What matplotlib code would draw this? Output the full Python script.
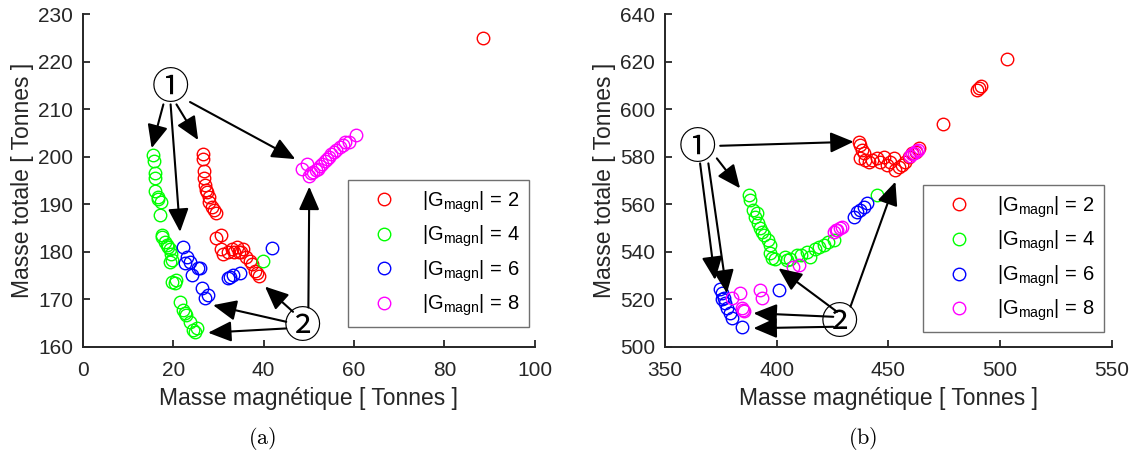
import matplotlib
matplotlib.use('Agg')
import matplotlib.pyplot as plt
from matplotlib.lines import Line2D

plt.rcParams['font.family'] = ['Liberation Sans', 'DejaVu Sans']
plt.rcParams['mathtext.fontset'] = 'custom'
plt.rcParams['mathtext.rm'] = 'Liberation Sans'

# ---- data : panel (a) ----
a_red_x = [26.5, 26.6, 26.8, 26.8, 27.0, 27.2, 27.5, 27.8, 28.0, 28.5, 29.0, 29.5,
           29.5, 30.5, 30.5, 31.0, 32.0, 33.0, 33.5, 34.0, 34.5, 35.0, 35.5, 36.0,
           37.0, 37.5, 38.0, 38.5, 39.0, 88.6]
a_red_y = [200.5, 199.5, 197.0, 195.5, 194.0, 193.0, 192.5, 191.5, 190.5, 189.5, 188.8, 188.2,
           183.0, 183.5, 180.5, 179.5, 180.0, 180.5, 180.0, 181.0, 180.0, 180.0, 180.5, 179.0,
           178.0, 177.5, 176.0, 175.5, 175.0, 225.0]
a_green_x = [15.6, 15.8, 15.9, 16.0, 15.9, 16.5, 16.7, 17.3, 17.0, 17.4, 17.4, 18.1, 18.5,
             18.9, 19.3, 19.5, 19.2, 19.8, 19.6, 20.7, 20.3, 21.5, 22.2, 22.6, 22.9, 23.7,
             24.4, 25.2, 24.7, 39.8]
a_green_y = [200.4, 199.2, 196.5, 195.5, 192.7, 191.5, 191.2, 190.5, 187.7, 183.5, 183.2, 182.1,
             181.5, 181.1, 180.5, 179.5, 177.9, 178.3, 173.7, 174.1, 173.5, 169.5, 167.8, 167.2,
             166.7, 165.3, 163.6, 163.9, 163.2, 178.1]
a_blue_x = [22.1, 22.6, 23.0, 23.7, 24.1, 25.4, 25.9, 26.3, 27.0, 27.7, 32.1, 32.5, 33.2, 34.7, 41.8]
a_blue_y = [181.0, 177.7, 178.9, 177.9, 175.1, 176.6, 176.6, 172.4, 170.3, 170.9, 174.5, 174.7,
            175.1, 175.5, 180.8]
a_mag_x = [48.5, 49.5, 50.0, 50.5, 51.0, 51.5, 52.0, 52.5, 53.0, 53.5, 54.0, 54.5, 55.0,
           55.5, 56.0, 57.0, 57.5, 58.0, 59.0, 60.5]
a_mag_y = [197.5, 198.5, 196.0, 196.5, 196.8, 197.2, 197.5, 198.0, 198.5, 199.0, 199.5, 200.0,
           200.5, 201.0, 201.5, 202.0, 202.5, 203.0, 203.0, 204.5]

# ---- data : panel (b) ----
b_red_x = [437.0, 437.4, 438.2, 438.9, 437.4, 439.7, 441.2, 442.7, 444.9, 446.4, 447.9, 449.4,
           450.9, 452.4, 453.1, 454.6, 456.1, 457.6, 459.1, 460.6, 462.1, 463.6,
           474.5, 489.5, 490.5, 491.3, 503.2]
b_red_y = [586.3, 584.9, 582.8, 581.4, 579.3, 578.6, 577.9, 578.6, 579.3, 577.9, 580.0, 576.5,
           577.9, 579.3, 574.4, 575.8, 576.5, 577.9, 580.0, 581.4, 582.1, 583.5,
           593.7, 608.0, 608.7, 609.7, 621.0]
b_green_x = [387.4, 388.1, 389.6, 391.1, 390.4, 391.8, 392.6, 393.4, 394.1, 396.3, 397.1, 397.1,
             397.8, 399.0, 403.8, 404.6, 406.0, 409.0, 411.0, 413.5, 415.0, 417.0, 418.7,
             421.0, 423.0, 425.5, 444.9]
b_green_y = [563.9, 561.8, 557.6, 556.2, 554.8, 552.0, 549.9, 548.5, 547.1, 545.0, 542.9, 539.4,
             537.3, 536.8, 538.0, 536.6, 537.0, 538.7, 538.5, 540.1, 538.0, 541.0, 542.2,
             542.9, 544.0, 545.0, 563.9]
b_blue_x = [374.7, 375.4, 375.4, 376.2, 376.9, 377.7, 379.1, 379.9, 384.4, 400.8,
            434.5, 436.0, 437.4, 438.9, 440.4]
b_blue_y = [524.5, 522.5, 520.0, 520.5, 518.4, 516.2, 514.1, 512.0, 508.5, 524.0,
            554.8, 556.9, 557.6, 559.0, 560.4]
b_mag_x = [379.9, 383.6, 384.4, 385.1, 385.5, 392.6, 393.4, 407.5, 409.8, 425.5, 426.3, 427.0,
           428.5, 429.2, 459.5, 460.5, 461.5, 462.3, 463.0]
b_mag_y = [520.5, 522.5, 516.2, 515.6, 515.0, 524.0, 520.5, 533.7, 534.4, 548.5, 549.0, 549.2,
           549.9, 550.6, 580.5, 581.0, 581.5, 582.3, 583.0]

gmagn = [2, 4, 6, 8]
colors = ['#ff0000', '#00ff00', '#0000ff', '#ff00ff']

# annotations: (label, label position, [(start, tip), ...])
a_notes = [
    ('\u2460', (19.3, 214.4), [((17.8, 211.0), (15.2, 201.8)),
                               ((19.4, 211.0), (21.5, 184.2)),
                               ((20.7, 211.0), (25.5, 203.5)),
                               ((23.7, 211.5), (47.0, 199.5))]),
    ('\u2461', (48.6, 164.0), [((45.0, 165.3), (28.8, 168.8)),
                               ((45.0, 163.9), (27.7, 163.0)),
                               ((46.5, 167.4), (40.3, 172.7)),
                               ((49.9, 168.3), (50.1, 193.7))]),
]
b_notes = [
    ('\u2460', (364.7, 583.5), [((374.7, 584.6), (434.4, 586.3)),
                                ((373.2, 579.3), (383.6, 566.7)),
                                ((365.7, 577.2), (372.4, 528.2)),
                                ((369.4, 577.2), (377.7, 522.6))]),
    ('\u2461', (428.2, 509.9), [((425.3, 512.7), (389.6, 514.2)),
                                ((425.3, 508.5), (389.6, 507.9)),
                                ((427.0, 514.8), (400.8, 533.1)),
                                ((433.0, 517.0), (453.1, 569.5))]),
]

AX_COL = '#262626'

fig = plt.figure(figsize=(11.35, 4.61), dpi=100)
ax1 = fig.add_axes([0.0731, 0.2473, 0.398, 0.7223])
ax2 = fig.add_axes([0.5859, 0.2473, 0.3938, 0.7223])


def draw_panel(ax, series, notes, xlim, ylim, xticks, yticks, leg_anchor):
    for (xs, ys), c in zip(series, colors):
        ax.plot(xs, ys, 'o', mfc='none', mec=c, ms=9, mew=1.0, zorder=3)

    for label, pos, arrows in notes:
        for start, tip in arrows:
            ax.annotate('', xy=tip, xytext=start, zorder=4,
                        arrowprops=dict(arrowstyle='-|>,head_length=0.95,head_width=0.42',
                                        mutation_scale=15, color='black', lw=1.5,
                                        shrinkA=0, shrinkB=0))
        ax.text(pos[0], pos[1], label, ha='center', va='center', fontsize=27,
                family=['Noto Sans CJK JP', 'DejaVu Sans'], zorder=5)

    ax.set_xlim(*xlim)
    ax.set_ylim(*ylim)
    ax.set_xticks(xticks)
    ax.set_yticks(yticks)
    for s in ['top', 'right']:
        ax.spines[s].set_visible(False)
    for s in ['left', 'bottom']:
        ax.spines[s].set_linewidth(1.4)
        ax.spines[s].set_color(AX_COL)
    ax.tick_params(direction='in', length=5, width=1.3, colors=AX_COL,
                   labelsize=15, pad=7)
    ax.tick_params(axis='x', pad=10)
    ax.set_xlabel('Masse magnétique [ Tonnes ]', fontsize=16.5, color=AX_COL, labelpad=5)
    ax.set_ylabel('Masse totale [ Tonnes ]', fontsize=16.5, color=AX_COL, labelpad=3)

    handles = [Line2D([], [], ls='none', marker='o', mfc='none', mec=c, ms=9, mew=1.0)
               for c in colors]
    labels = [r'|G$_\mathregular{magn}$| = %d' % g for g in gmagn]
    leg = ax.legend(handles, labels, loc='upper right', bbox_to_anchor=leg_anchor,
                    fontsize=14.5, fancybox=False, framealpha=1, edgecolor='#707070',
                    borderpad=0.45, labelspacing=0.45, handletextpad=0.55,
                    handlelength=2.7, borderaxespad=0)
    leg.get_frame().set_linewidth(1.0)


draw_panel(ax1, [(a_red_x, a_red_y), (a_green_x, a_green_y),
                 (a_blue_x, a_blue_y), (a_mag_x, a_mag_y)],
           a_notes, (0, 100), (160, 230), range(0, 101, 20), range(160, 231, 10),
           (0.987, 0.5015))
draw_panel(ax2, [(b_red_x, b_red_y), (b_green_x, b_green_y),
                 (b_blue_x, b_blue_y), (b_mag_x, b_mag_y)],
           b_notes, (350, 550), (500, 640), range(350, 551, 50), range(500, 641, 20),
           (0.982, 0.486))

fig.text(262 / 1135, 1 - 438 / 461, r'$\mathrm{(a)}$', ha='center', va='center',
         fontsize=16, math_fontfamily='cm')
fig.text(863 / 1135, 1 - 438 / 461, r'$\mathrm{(b)}$', ha='center', va='center',
         fontsize=16, math_fontfamily='cm')

fig.savefig('out.png', dpi=100)
